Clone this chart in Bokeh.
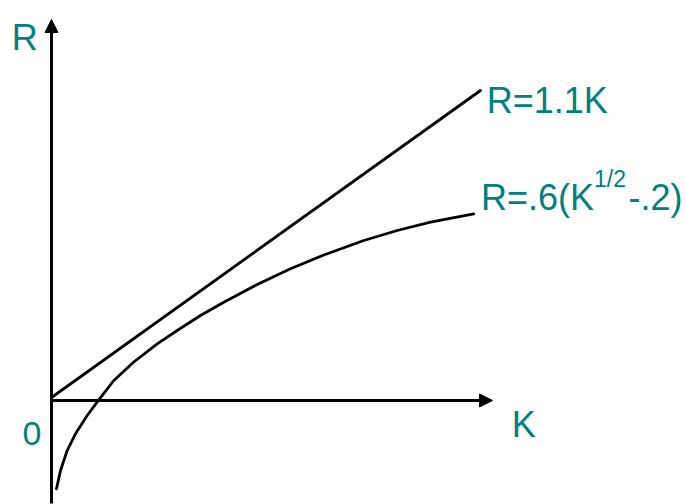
from bokeh.plotting import figure
from bokeh.models import Range1d, Arrow, NormalHead, Label
from bokeh.embed import file_html
from bokeh.resources import INLINE

# Schematic values (arbitrary units)
line_k = [0.0, 4.29]
line_r = [0.03, 3.10]

curve_k = [0.05, 0.09, 0.157, 0.24, 0.357, 0.473, 0.623, 0.823, 1.057, 1.257,
           1.49, 1.723, 2.057, 2.39, 2.723, 3.123, 3.457, 3.79, 4.223]
curve_r = [-0.883, -0.70, -0.50, -0.333, -0.15, 0.007, 0.20, 0.385, 0.567, 0.70,
           0.85, 0.983, 1.16, 1.317, 1.455, 1.60, 1.70, 1.783, 1.867]

axis_k_max = 4.41
axis_r_min = -1.03
axis_r_max = 3.81

TEAL = "#008080"
FONT = "Liberation Sans"

W, H = 686, 504
p = figure(width=W, height=H, output_backend="svg", toolbar_location=None,
           x_range=Range1d(-0.51, -0.51 + W / 100), y_range=Range1d(4.0 - H / 100, 4.0),
           x_axis_type=None, y_axis_type=None, min_border=0)
p.outline_line_color = None
p.grid.visible = False
p.background_fill_color = "white"
p.border_fill_color = "white"

# axes with arrows
p.add_layout(Arrow(end=NormalHead(size=13, fill_color="black", line_color="black", line_width=1),
                   x_start=0, y_start=axis_r_min, x_end=0, y_end=axis_r_max,
                   line_width=3, line_color="black"))
p.add_layout(Arrow(end=NormalHead(size=13, fill_color="black", line_color="black", line_width=1),
                   x_start=0, y_start=0, x_end=axis_k_max, y_end=0,
                   line_width=3, line_color="black"))

p.line(line_k, line_r, line_width=2.8, line_color="black", line_cap="round")
p.line(curve_k, curve_r, line_width=2.8, line_color="black", line_cap="round", line_join="round")

def lab(text, k, r, size):
    p.add_layout(Label(x=k, y=r, text=text, text_color=TEAL, text_font=FONT,
                       text_font_size=f"{size}px", text_baseline="alphabetic",
                       text_align="left"))

lab("R", -0.398, 3.633, 36)
lab("0", -0.29, -0.33, 34)
lab("K", 4.603, -0.24, 36)
lab("R=1.1K", 4.352, 3.00, 36)
lab("R=.6(K", 4.295, 2.033, 36)
lab("1/2", 5.425, 2.217, 23)
lab("-.2)", 5.77, 2.033, 36)

open("out.html", "w").write(file_html(p, INLINE))
